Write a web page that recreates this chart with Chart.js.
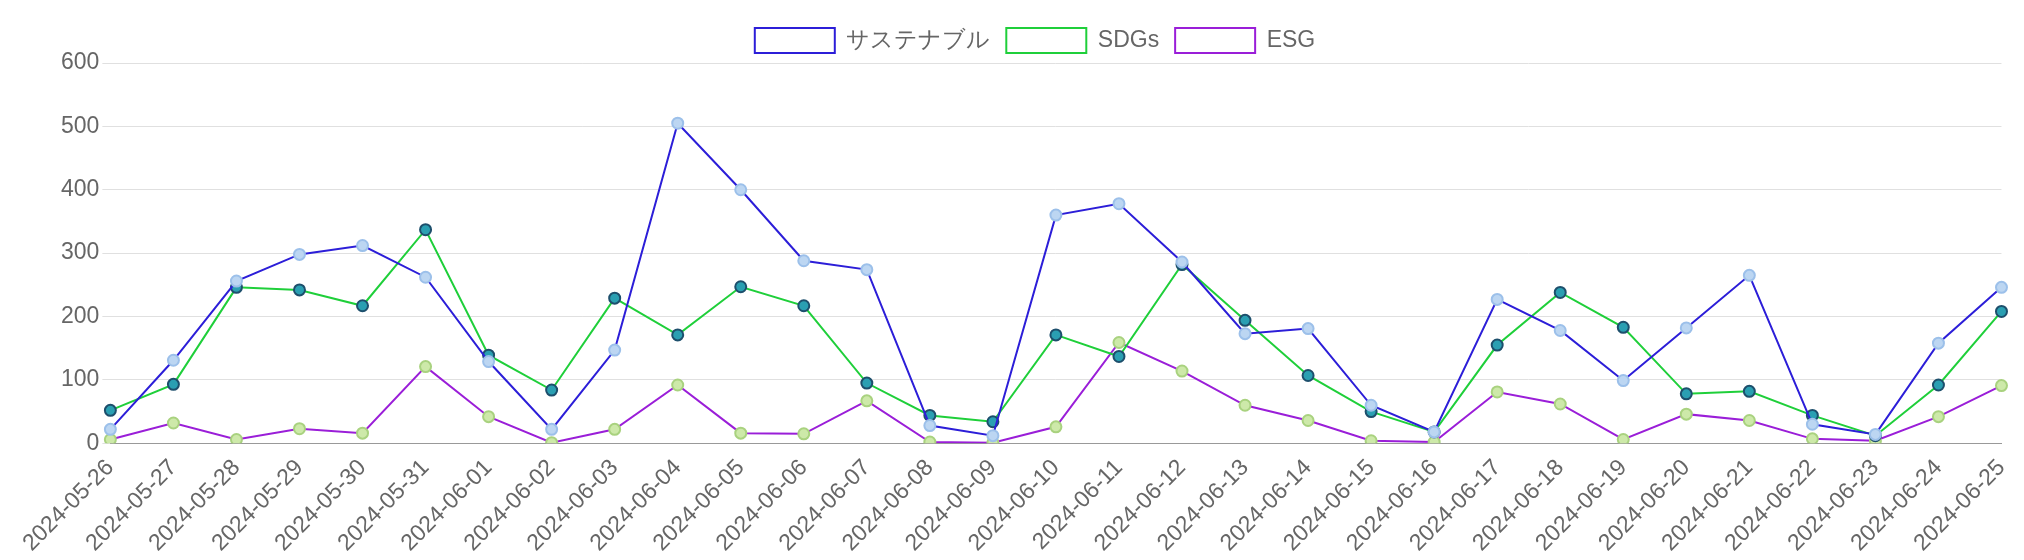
<!DOCTYPE html>
<html><head><meta charset="utf-8">
<script src="https://cdn.jsdelivr.net/npm/chart.js@4"></script>
<style>html,body{margin:0;padding:0;background:#fff}#w{width:2024px;height:560px}</style>
</head><body><div id="w"><canvas id="c"></canvas></div>
<script>
const categories = ["2024-05-26","2024-05-27","2024-05-28","2024-05-29","2024-05-30","2024-05-31","2024-06-01","2024-06-02","2024-06-03","2024-06-04","2024-06-05","2024-06-06","2024-06-07","2024-06-08","2024-06-09","2024-06-10","2024-06-11","2024-06-12","2024-06-13","2024-06-14","2024-06-15","2024-06-16","2024-06-17","2024-06-18","2024-06-19","2024-06-20","2024-06-21","2024-06-22","2024-06-23","2024-06-24","2024-06-25"];
const sustainable = [22,131,256,298,312,262,129,22,147,505,400,288,274,28,12,360,378,286,173,181,60,18,227,178,99,182,265,30,14,158,246];
const sdgs = [52,93,246,242,217,337,139,84,229,171,247,217,95,44,34,171,137,282,194,107,50,18,155,238,183,78,82,44,12,92,208];
const esg = [6,32,6,23,16,121,42,1,22,92,16,15,67,2,1,26,159,114,60,36,4,2,81,62,6,46,36,7,4,42,91];
const font = {family:"'Liberation Sans', Arial, sans-serif", size:23};
new Chart(document.getElementById('c'), {
  type:'line',
  data:{labels:categories, datasets:[
    {label:'サステナブル', data:sustainable, borderColor:'#2c1ed8', backgroundColor:'#fff', borderWidth:2,
     pointBackgroundColor:'#bcd6f2', pointBorderColor:'#9cc0ea', pointRadius:5.5, pointBorderWidth:2, tension:0},
    {label:'SDGs', data:sdgs, borderColor:'#1fcf3a', backgroundColor:'#fff', borderWidth:2,
     pointBackgroundColor:'#2a9fb2', pointBorderColor:'#1d4f6c', pointRadius:5.5, pointBorderWidth:2, tension:0},
    {label:'ESG', data:esg, borderColor:'#9a1ed8', backgroundColor:'#fff', borderWidth:2,
     pointBackgroundColor:'#cde9a9', pointBorderColor:'#a9d27f', pointRadius:5.5, pointBorderWidth:2, tension:0}
  ]},
  options:{responsive:true, maintainAspectRatio:false, animation:false,
    layout:{padding:{left:58,right:12,top:12,bottom:0}},
    plugins:{legend:{labels:{font:font, color:'#666', boxWidth:80, boxHeight:25, padding:16}}, tooltip:{enabled:false}},
    scales:{
      x:{ticks:{font:font,color:'#666',maxRotation:45,minRotation:45,autoSkip:false}, grid:{display:false}, border:{color:'#999'}},
      y:{min:0,max:600,ticks:{stepSize:100,font:font,color:'#666'}, grid:{color:'#e0e0e0'}, border:{display:false}}
    }}
});
</script></body></html>
